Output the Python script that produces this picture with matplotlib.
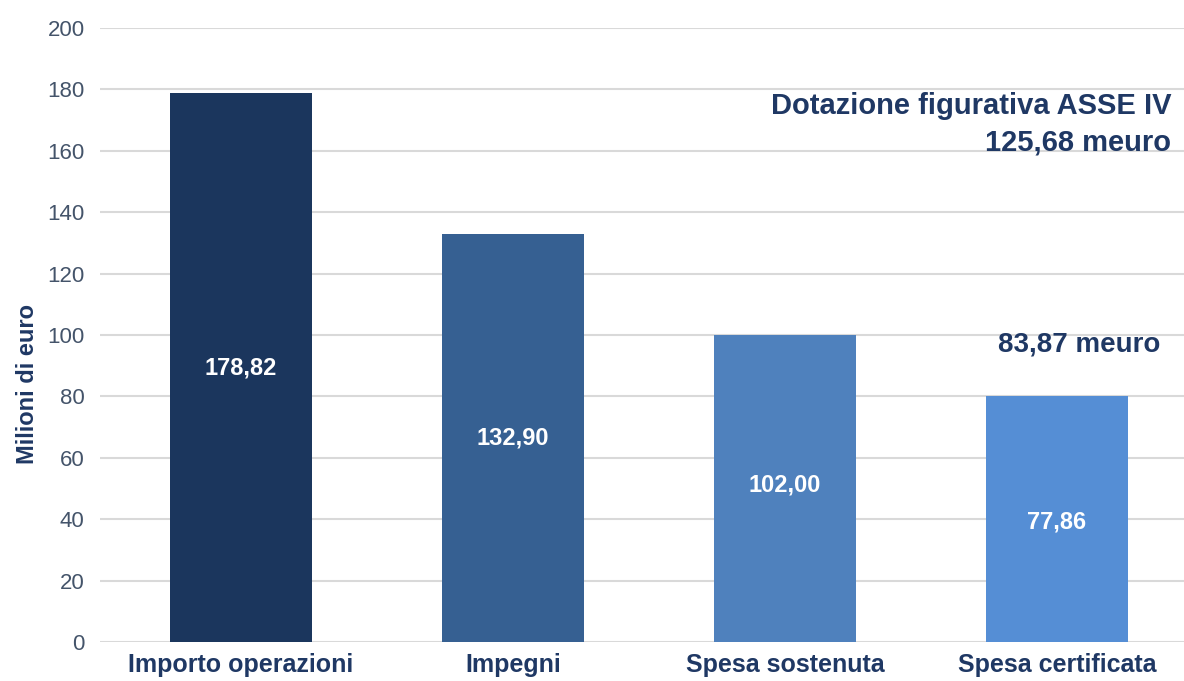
import matplotlib.pyplot as plt

# dati
categorie = ["Importo operazioni", "Impegni", "Spesa sostenuta", "Spesa certificata"]
altezze = [178.82, 132.90, 100.0, 80.0]          # altezza delle barre come disegnate
valori = [178.82, 132.90, 102.00, 77.86]         # valori riportati nelle etichette
etichette = ["178,82", "132,90", "102,00", "77,86"]
colori = ["#1B365D", "#366092", "#4F81BD", "#558ED5"]
y_ticks = [0, 20, 40, 60, 80, 100, 120, 140, 160, 180, 200]

plt.rcParams['font.family'] = ["Liberation Sans", "DejaVu Sans"]

fig = plt.figure(figsize=(11.84, 6.81), dpi=100)
ax = fig.add_axes([100 / 1184, 39 / 681, 1084 / 1184, 614 / 681])

x = range(len(categorie))
ax.bar(x, altezze, width=0.52, color=colori, zorder=3)

for i, v in enumerate(valori):
    ax.text(i, v / 2, etichette[i], ha='center', va='center', color='white',
            fontsize=17, fontweight='bold', zorder=4)

ax.set_ylim(0, 200)
ax.set_xlim(-0.518, 3.467)
ax.set_yticks(y_ticks)
ax.yaxis.grid(True, color='#D9D9D9', linewidth=1.5, zorder=0)
for s in ax.spines.values():
    s.set_visible(False)
ax.tick_params(axis='both', length=0)
ax.tick_params(axis='y', labelsize=16, labelcolor='#44546A', pad=11)
ax.set_xticks(list(x))
ax.set_xticklabels(categorie, fontweight='bold', fontsize=18, color='#1F3864')
ax.tick_params(axis='x', pad=8)

ax.set_ylabel("Milioni di euro", fontweight='bold', fontsize=17, color='#1F3864')
ax.yaxis.set_label_coords(-0.056, 0.42)

# annotazioni
ax.text(3.42, 174.5, "Dotazione figurativa ASSE IV", ha='right', va='center',
        fontsize=21, fontweight='bold', color='#1F3864')
ax.text(3.42, 162.8, "125,68 meuro", ha='right', va='center',
        fontsize=21, fontweight='bold', color='#1F3864')
ax.text(3.38, 97.0, "83,87 meuro", ha='right', va='center',
        fontsize=20, fontweight='bold', color='#1F3864')

fig.savefig("out.png", dpi=100)
